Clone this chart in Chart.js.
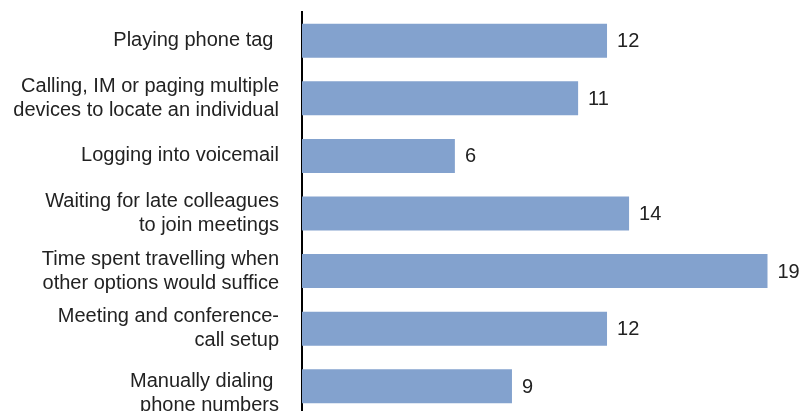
<!DOCTYPE html>
<html>
<head>
<meta charset="utf-8">
<script src="https://cdn.jsdelivr.net/npm/chart.js@4/dist/chart.umd.min.js"></script>
<style>
  html, body { margin: 0; padding: 0; overflow: hidden; background: #fff; }
  #wrap { width: 801px; height: 416px; position: relative; }
</style>
</head>
<body>
<div id="wrap"><canvas id="c"></canvas></div>
<script>
// Categories (multi-line labels as drawn)
const categories = [
  ["Playing phone tag "],
  ["Calling, IM or paging multiple", "devices to locate an individual"],
  ["Logging into voicemail"],
  ["Waiting for late colleagues", "to join meetings"],
  ["Time spent travelling when", "other options would suffice"],
  ["Meeting and conference-", "call setup"],
  ["Manually dialing ", "phone numbers"]
];
// Bar lengths (axis units)
const barValues = [12.45, 11.27, 6.24, 13.35, 19.0, 12.45, 8.57];
// Numbers printed next to the bars
const valueLabels = ["12", "11", "6", "14", "19", "12", "9"];
const xMax = 20;

const FONT = "'Liberation Sans', Arial, Helvetica, sans-serif";

const valueLabelPlugin = {
  id: 'valueLabels',
  beforeDraw(chart) {
    // the last category label sits a little lower in the reference
    const items = chart.scales.y.getLabelItems();
    const last = items[items.length - 1];
    if (last && !last._shifted) {
      last.options.translation[1] += 7;
      last._shifted = true;
    }
  },
  afterDatasetsDraw(chart) {
    const ctx = chart.ctx;
    const meta = chart.getDatasetMeta(0);
    ctx.save();
    ctx.font = "20px " + FONT;
    ctx.fillStyle = "#222";
    ctx.textAlign = "left";
    ctx.textBaseline = "middle";
    meta.data.forEach((bar, i) => {
      ctx.fillText(valueLabels[i], bar.x + 10, bar.y + 1);
    });
    ctx.restore();
  }
};

new Chart(document.getElementById('c'), {
  type: 'bar',
  data: {
    labels: categories,
    datasets: [{
      data: barValues,
      backgroundColor: '#83a2ce',
      borderWidth: 0,
      barPercentage: 0.59,
      categoryPercentage: 1.0
    }]
  },
  options: {
    indexAxis: 'y',
    responsive: true,
    maintainAspectRatio: false,
    animation: false,
    layout: { padding: { top: 12, right: 9, bottom: 1, left: 0 } },
    plugins: { legend: { display: false }, tooltip: { enabled: false } },
    scales: {
      x: {
        display: false,
        min: 0,
        max: xMax
      },
      y: {
        grid: { display: false, drawTicks: false },
        border: { display: true, color: '#000', width: 2 },
        ticks: {
          color: '#222',
          padding: 23,
          font: { family: FONT, size: 20, lineHeight: 1.2 }
        },
        afterFit(scale) {
          scale.width = 302;
          scale.paddingTop = 0;
          scale.paddingBottom = 0;
        }
      }
    }
  },
  plugins: [valueLabelPlugin]
});
</script>
</body>
</html>
